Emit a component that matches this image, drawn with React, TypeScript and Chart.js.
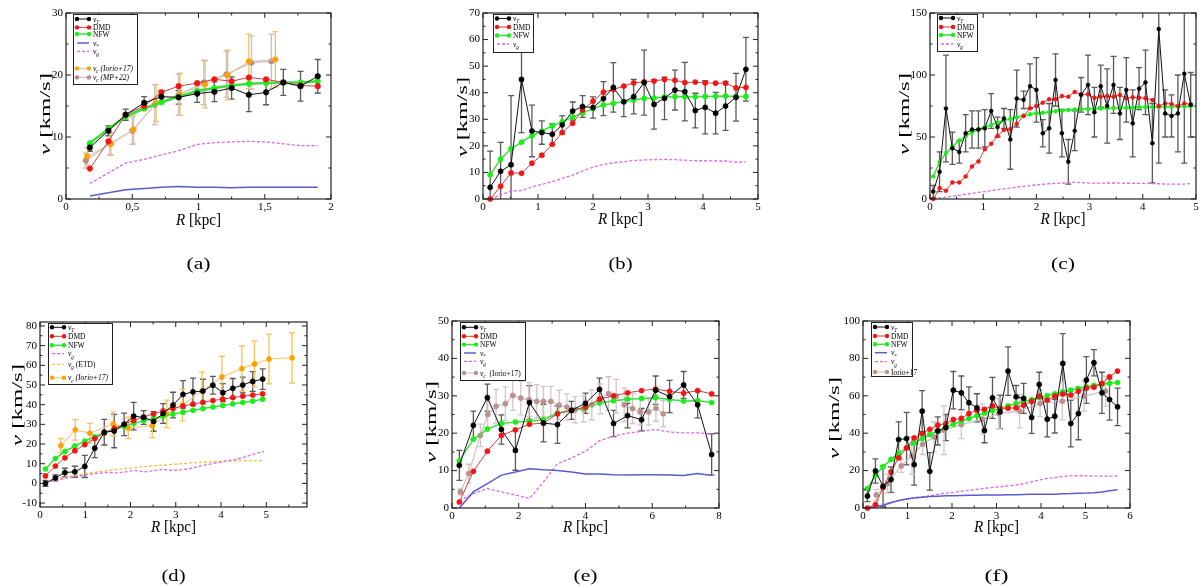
import { useEffect, useRef } from "react";
import { Chart, registerables } from "chart.js";

Chart.register(...registerables);

const SERIF = '"Liberation Serif", "DejaVu Serif", serif';

// ---------- panel (a) ----------
const aR = [0.18, 0.32, 0.45, 0.59, 0.72, 0.85, 0.99, 1.12, 1.25, 1.38, 1.51, 1.64, 1.77, 1.9];
const aVT = [8.3, 11.0, 13.6, 15.5, 16.5, 16.4, 17.0, 17.3, 17.9, 16.8, 17.2, 18.8, 18.2, 19.8];
const aVTErr = [0.6, 0.8, 0.9, 1.0, 1.0, 1.1, 1.4, 1.6, 1.8, 2.7, 2.0, 2.1, 2.4, 2.7];
const aDMD = [4.9, 9.3, 13.6, 15.0, 17.2, 18.2, 18.7, 19.3, 19.0, 19.6, 19.3, 18.8, 18.3, 18.2];
const aNFW = [9.0, 11.3, 13.3, 14.6, 15.6, 16.5, 17.4, 17.9, 18.3, 18.6, 18.7, 18.8, 18.8, 19.0];
const aVStar = [0.5, 1.0, 1.5, 1.7, 1.9, 2.0, 1.9, 1.9, 1.8, 1.9, 1.9, 1.9, 1.9, 1.9];
const aVg = [2.5, 4.2, 5.8, 6.4, 7.1, 7.8, 8.8, 9.1, 9.2, 9.3, 9.2, 8.9, 8.6, 8.6];
const aIorioR = [0.16, 0.34, 0.51, 0.68, 0.86, 1.05, 1.22, 1.38, 1.58];
const aIorio = [6.9, 8.9, 11.2, 15.5, 16.9, 18.5, 20.0, 22.2, 22.5];
const aIorioErr = [1.4, 1.8, 2.3, 3.0, 3.4, 3.8, 4.0, 4.4, 4.5];
const aMPR = [0.15, 0.33, 0.5, 0.67, 0.85, 1.04, 1.21, 1.4, 1.55];
const aMP = [6.2, 8.9, 11.0, 15.2, 16.8, 18.8, 20.1, 22.0, 22.2];
const aMPErr = [1.2, 1.8, 2.2, 3.2, 3.3, 3.6, 3.7, 4.3, 4.4];
const aXTicks = [0, 0.5, 1, 1.5, 2];
const aXLabels = ["0", "0,5", "1", "1,5", "2"];
const aYTicks = [0, 10, 20, 30];
const aYLabels = ["0", "10", "20", "30"];

// ---------- panel (b) ----------
const bR = [0.13, 0.32, 0.51, 0.7, 0.89, 1.07, 1.26, 1.44, 1.63, 1.81, 2.0, 2.19, 2.37, 2.56, 2.74, 2.93, 3.11, 3.3, 3.49, 3.67, 3.86, 4.04, 4.23, 4.41, 4.6, 4.78];
const bVT = [4.4, 10.4, 12.9, 45.0, 25.6, 25.0, 24.4, 27.9, 33.1, 34.8, 34.4, 37.8, 42.0, 36.6, 38.5, 43.8, 35.6, 37.9, 41.0, 40.4, 33.3, 34.5, 32.3, 35.0, 38.3, 48.8];
const bVTErr = [13.6, 10.9, 26.0, 20.0, 9.7, 4.4, 3.9, 3.4, 3.4, 4.1, 4.0, 6.4, 9.3, 5.6, 6.5, 12.2, 9.3, 8.0, 7.5, 11.0, 6.5, 10.0, 7.8, 9.2, 9.0, 12.0];
const bDMD = [0.0, 4.8, 9.8, 9.7, 13.5, 16.5, 20.6, 25.0, 28.5, 33.5, 36.8, 40.2, 41.2, 42.5, 43.7, 44.1, 44.4, 45.0, 44.7, 43.8, 44.0, 43.7, 43.6, 43.6, 41.8, 42.0];
const bNFW = [9.1, 15.0, 18.9, 21.4, 23.8, 25.6, 27.5, 29.1, 30.8, 32.3, 34.0, 35.4, 36.0, 36.6, 37.3, 37.9, 38.0, 38.4, 38.5, 38.5, 38.5, 38.6, 38.7, 38.8, 38.6, 38.6];
const bVg = [0.0, 1.5, 3.0, 3.2, 4.5, 5.5, 6.5, 7.8, 9.0, 10.5, 12.0, 13.0, 13.6, 14.0, 14.5, 14.7, 14.8, 14.9, 14.8, 14.6, 14.4, 14.4, 14.3, 14.3, 13.8, 14.0];
const bXTicks = [0, 1, 2, 3, 4, 5];
const bXLabels = ["0", "1", "2", "3", "4", "5"];
const bYTicks = [0, 10, 20, 30, 40, 50, 60, 70];
const bYLabels = ["0", "10", "20", "30", "40", "50", "60", "70"];

// ---------- panel (c) ----------
const cR = [0.06, 0.18, 0.3, 0.42, 0.55, 0.67, 0.79, 0.91, 1.03, 1.15, 1.27, 1.39, 1.51, 1.63, 1.76, 1.88, 2.0, 2.12, 2.24, 2.36, 2.48, 2.6, 2.72, 2.84, 2.97, 3.09, 3.21, 3.33, 3.45, 3.57, 3.69, 3.81, 3.93, 4.05, 4.18, 4.3, 4.42, 4.54, 4.66, 4.78, 4.9];
const cVT = [6, 22, 73, 41, 38, 53, 56, 56, 57, 71, 58, 65, 48, 81, 80, 91, 88, 53, 57, 96, 53, 30, 55, 84, 92, 70, 91, 75, 92, 69, 88, 61, 89, 94, 45, 137, 69, 67, 69, 101, 76];
const cVTErr = [5, 16, 43, 13, 9, 15, 15, 15, 15, 14, 8, 8, 24, 23, 7, 18, 26, 11, 20, 21, 19, 18, 16, 14, 24, 20, 17, 30, 23, 21, 26, 27, 17, 26, 32, 108, 19, 17, 31, 72, 26];
const cDMD = [0, 8.8, 6.7, 13.4, 13.4, 18.2, 26.3, 30.3, 40.2, 44.5, 50.9, 55.7, 56.3, 60.5, 67.0, 73.1, 75.0, 77.7, 80.4, 80.4, 83.0, 82.5, 86.3, 84.4, 84.4, 81.7, 82.5, 83.0, 82.5, 83.8, 81.2, 82.0, 81.7, 81.2, 79.8, 75.0, 77.1, 76.6, 75.0, 77.1, 76.3];
const cNFW = [18.2, 29.7, 37.0, 42.3, 47.1, 50.9, 53.6, 56.3, 57.9, 59.7, 61.6, 63.2, 64.6, 65.9, 67.2, 68.3, 69.1, 69.6, 70.2, 70.7, 71.3, 71.8, 72.1, 72.3, 72.6, 72.8, 73.0, 73.2, 73.4, 73.5, 73.6, 73.8, 73.9, 74.0, 74.1, 74.2, 74.3, 74.4, 74.5, 74.6, 74.7];
const cVg = [0, 0.8, 1.5, 2.3, 3.0, 3.8, 4.5, 5.3, 6.0, 6.8, 7.5, 8.2, 9.0, 9.5, 10.2, 10.8, 11.4, 11.9, 12.3, 12.6, 12.9, 13.1, 13.6, 13.2, 12.9, 12.8, 12.8, 12.9, 12.9, 12.8, 12.7, 12.7, 12.6, 12.6, 12.4, 12.3, 12.1, 12.0, 12.0, 12.1, 12.5];
const cXTicks = [0, 1, 2, 3, 4, 5];
const cXLabels = ["0", "1", "2", "3", "4", "5"];
const cYTicks = [0, 50, 100, 150];
const cYLabels = ["0", "50", "100", "150"];

// ---------- panel (d) ----------
const dR = [0.12, 0.34, 0.55, 0.77, 0.99, 1.21, 1.42, 1.64, 1.86, 2.07, 2.29, 2.51, 2.72, 2.94, 3.16, 3.38, 3.6, 3.82, 4.04, 4.26, 4.48, 4.7, 4.92];
const dVT = [0.0, 2.8, 5.5, 5.9, 8.6, 17.9, 26.0, 26.6, 30.0, 34.2, 33.5, 31.5, 35.5, 39.8, 45.2, 46.5, 46.9, 49.9, 46.1, 48.3, 50.0, 51.8, 53.0];
const dVTErr = [1.5, 1.5, 2.2, 2.8, 5.6, 4.8, 6.5, 8.5, 5.7, 7.0, 3.5, 5.0, 5.0, 6.5, 7.0, 7.0, 6.0, 4.5, 4.6, 5.0, 4.0, 5.0, 5.2];
const dDMD = [3.8, 8.8, 13.0, 16.6, 19.7, 22.8, 25.6, 28.0, 30.1, 32.0, 33.8, 35.3, 36.8, 38.1, 39.3, 40.3, 41.2, 42.1, 42.8, 43.6, 44.3, 44.9, 45.5];
const dNFW = [7.3, 12.6, 16.2, 19.0, 21.5, 23.7, 25.7, 27.5, 29.0, 30.5, 31.8, 33.0, 34.1, 35.2, 36.2, 37.1, 38.0, 38.8, 39.6, 40.4, 41.1, 41.8, 42.8];
const dVgR = [0.12, 0.3, 0.5, 0.7, 0.9, 1.1, 1.3, 1.5, 1.7, 1.9, 2.1, 2.3, 2.5, 2.7, 2.9, 3.1, 3.3, 3.5, 3.7, 3.9, 4.1, 4.3, 4.5, 4.7, 4.95];
const dVg = [1.0, 1.5, 2.3, 3.2, 3.8, 4.6, 5.2, 5.6, 5.3, 5.9, 6.6, 5.8, 6.4, 7.1, 6.6, 6.9, 7.4, 8.6, 9.6, 10.4, 11.3, 12.1, 13.2, 14.8, 16.2];
const dEtdR = [0.12, 0.5, 1.0, 1.5, 2.0, 2.5, 3.0, 3.5, 4.0, 4.5, 4.95];
const dEtd = [0.8, 2.8, 5.0, 6.5, 7.8, 8.9, 9.8, 10.6, 11.2, 11.5, 11.6];
const dIorioR = [0.46, 0.78, 1.1, 1.62, 1.95, 2.48, 2.8, 3.15, 3.58, 4.02, 4.46, 4.74, 5.06, 5.57];
const dIorio = [19.2, 27.2, 25.5, 30.2, 28.2, 29.3, 35.3, 39.8, 47.0, 54.1, 58.3, 60.7, 63.2, 63.8];
const dIorioErr = [3.6, 5.2, 5.0, 6.0, 5.5, 6.0, 7.0, 8.0, 9.5, 10.5, 11.5, 11.7, 12.6, 12.8];
const dXTicks = [0, 1, 2, 3, 4, 5];
const dXLabels = ["0", "1", "2", "3", "4", "5"];
const dYTicks = [-10, 0, 10, 20, 30, 40, 50, 60, 70, 80];
const dYLabels = ["-10", "0", "10", "20", "30", "40", "50", "60", "70", "80"];

// ---------- panel (e) ----------
const eR = [0.22, 0.64, 1.06, 1.48, 1.9, 2.32, 2.74, 3.16, 3.58, 4.0, 4.42, 4.84, 5.26, 5.68, 6.1, 6.52, 6.94, 7.36, 7.78];
const eVT = [11.4, 22.1, 29.5, 21.0, 15.4, 28.2, 22.7, 22.3, 26.1, 28.0, 31.7, 22.6, 24.7, 23.6, 31.5, 29.8, 32.9, 27.6, 14.3];
const eVTErr = [4.0, 3.8, 3.6, 3.9, 5.3, 4.5, 5.0, 5.0, 2.4, 2.7, 3.0, 3.5, 3.3, 3.0, 3.8, 4.3, 3.6, 3.5, 5.5];
const eDMD = [1.6, 9.8, 15.2, 19.4, 20.9, 22.4, 22.7, 25.2, 26.1, 27.0, 29.1, 30.0, 30.8, 31.4, 31.8, 31.2, 30.7, 31.4, 30.5];
const eNFW = [12.6, 18.4, 21.1, 22.6, 23.0, 23.2, 23.6, 25.4, 26.1, 26.7, 28.1, 28.7, 29.1, 29.3, 29.5, 29.0, 28.6, 28.7, 28.2];
const eVStar = [0.0, 4.3, 6.5, 8.8, 9.6, 10.5, 10.2, 10.0, 9.6, 9.1, 9.1, 8.9, 8.8, 8.9, 8.9, 8.8, 8.7, 9.2, 8.7];
const eVg = [2.0, 3.8, 5.2, 4.3, 3.5, 2.5, 7.0, 11.8, 13.4, 15.2, 18.0, 19.2, 20.0, 20.5, 21.0, 20.3, 20.1, 20.1, 19.8];
const eIorioR = [0.25, 0.5, 0.85, 1.07, 1.32, 1.6, 1.82, 2.06, 2.31, 2.54, 2.74, 2.96, 3.21, 3.44, 3.69, 3.94, 4.19, 4.44, 4.69, 4.92, 5.16, 5.41, 5.64, 5.89, 6.11, 6.33];
const eIorio = [4.3, 9.2, 19.4, 25.0, 27.2, 27.9, 30.1, 29.4, 29.0, 28.5, 28.5, 28.5, 27.5, 27.0, 26.3, 26.5, 27.6, 29.2, 30.6, 29.9, 27.6, 26.6, 25.7, 25.7, 26.7, 25.2];
const eIorioErr = [0.8, 2.5, 3.0, 3.5, 4.5, 4.5, 4.0, 4.5, 4.5, 4.5, 4.0, 4.0, 4.0, 3.5, 3.5, 3.5, 4.0, 4.0, 4.5, 4.5, 4.5, 4.0, 3.5, 3.5, 3.5, 3.5];
const eXTicks = [0, 2, 4, 6, 8];
const eXLabels = ["0", "2", "4", "6", "8"];
const eYTicks = [0, 10, 20, 30, 40, 50];
const eYLabels = ["0", "10", "20", "30", "40", "50"];

// ---------- panel (f) ----------
const fR = [0.1, 0.28, 0.45, 0.63, 0.8, 0.98, 1.15, 1.33, 1.5, 1.68, 1.86, 2.03, 2.21, 2.38, 2.56, 2.73, 2.91, 3.08, 3.26, 3.44, 3.61, 3.79, 3.96, 4.14, 4.31, 4.49, 4.67, 4.84, 5.02, 5.19, 5.37, 5.54, 5.72];
const fVT = [6.4, 19.8, 11.6, 15.2, 36.6, 37.1, 23.2, 51.8, 19.6, 41.2, 43.0, 63.0, 61.6, 56.3, 53.6, 41.4, 58.9, 51.4, 73.2, 59.5, 58.6, 48.4, 66.1, 47.5, 49.1, 77.3, 45.2, 50.5, 68.4, 77.7, 61.6, 58.0, 54.1];
const fVTErr = [3.0, 6.5, 11.0, 6.8, 9.5, 14.0, 11.0, 11.0, 10.0, 7.5, 7.0, 10.0, 9.0, 8.5, 7.5, 6.5, 11.0, 9.0, 13.0, 6.0, 8.0, 8.5, 6.5, 9.5, 9.0, 16.0, 12.5, 14.0, 12.5, 7.0, 11.0, 11.0, 10.0];
const fDMD = [0.0, 1.8, 11.0, 19.3, 26.8, 32.1, 37.5, 39.8, 42.1, 44.3, 45.2, 47.3, 47.9, 50.5, 52.3, 52.8, 54.6, 53.2, 53.4, 53.6, 55.0, 57.0, 59.7, 57.7, 59.8, 60.9, 60.4, 62.4, 64.1, 64.6, 66.6, 70.2, 73.2];
const fNFW = [10.4, 17.5, 22.1, 26.0, 29.3, 32.2, 34.8, 37.1, 39.3, 41.3, 43.1, 44.8, 46.4, 47.9, 49.4, 50.8, 52.1, 53.4, 54.6, 55.8, 56.9, 58.0, 59.1, 60.1, 61.1, 62.1, 63.0, 63.9, 64.8, 65.6, 66.2, 66.7, 67.1];
const fVStar = [0.0, 0.5, 1.5, 2.8, 4.0, 4.8, 5.3, 5.7, 6.1, 6.3, 6.5, 6.6, 6.7, 6.8, 6.8, 6.9, 7.0, 7.0, 7.1, 7.1, 7.2, 7.3, 7.3, 7.3, 7.4, 7.6, 7.7, 7.9, 8.0, 8.2, 8.6, 9.2, 9.8];
const fVg = [0.0, 0.5, 2.0, 3.0, 4.0, 4.8, 5.5, 6.0, 6.5, 7.3, 8.0, 8.3, 8.9, 9.5, 10.0, 10.5, 11.0, 11.3, 11.8, 12.3, 13.0, 14.0, 15.0, 15.8, 16.3, 16.8, 17.2, 17.3, 17.2, 17.0, 17.0, 17.0, 17.0];
const fIorioR = [0.3, 0.55, 0.86, 1.1, 1.34, 1.6, 1.82, 2.21, 2.68, 3.05, 3.52, 3.98, 4.48, 4.97, 5.45];
const fIorio = [7.0, 13.0, 22.5, 28.0, 34.1, 38.0, 41.6, 44.6, 47.5, 50.5, 51.8, 55.9, 57.1, 59.8, 62.5];
const fIorioErr = [3.0, 5.0, 3.5, 10.0, 5.5, 8.0, 13.0, 7.5, 8.0, 8.0, 9.0, 7.0, 10.0, 8.0, 8.0];
const fXTicks = [0, 1, 2, 3, 4, 5, 6];
const fXLabels = ["0", "1", "2", "3", "4", "5", "6"];
const fYTicks = [0, 20, 40, 60, 80, 100];
const fYLabels = ["0", "20", "40", "60", "80", "100"];

type Part = [string, string];
type Series = { kind: string; r: number[]; v: number[]; err?: number[]; width?: number };
type Style = { line: string; point?: string; width: number; dash?: number[]; err?: string; order: number };
type Panel = {
  id: string;
  box: { l: number; t: number; r: number; b: number };
  x: [number, number];
  y: [number, number];
  xTicks: number[];
  xLabels: string[];
  xMinor: number;
  yTicks: number[];
  yLabels: string[];
  yMinor: number;
  pr: number;
  series: Series[];
  legend: { dx: number; w: number; h: number; rows: number[]; entries: { kind: string; label: Part[] }[] };
  yTitle: { x: number; y: number; len: number };
  xTitleY: number;
  caption: string;
  captionY: number;
};

const STY: Record<string, Style> = {
  vT: { line: "#111111", point: "#000000", width: 1, err: "#5a5a5a", order: 0 },
  dmd: { line: "#cc4040", point: "#f41414", width: 1, order: 1 },
  nfw: { line: "#40dd40", point: "#18f018", width: 1.5, order: 2 },
  iorio: { line: "#dccbb0", point: "#ffa200", width: 1.2, err: "#f2c35c", order: 3 },
  iorioD: { line: "#f2cc84", point: "#ffa200", width: 1.2, err: "#f2c35c", order: 3 },
  mp: { line: "#c8bebe", point: "#b68a8a", width: 1.2, err: "#cfbdbd", order: 4 },
  iorioE: { line: "#cfc0c0", point: "#ba9090", width: 1.2, err: "#d5c6c6", order: 4 },
  star: { line: "#5b5bd0", width: 1.5, order: 5 },
  gas: { line: "#e066e0", width: 1.3, dash: [3, 2], order: 6 },
  etd: { line: "#f0c048", width: 1.3, dash: [3, 2], order: 6 },
};

const L_VT: Part[] = [["v", "i"], ["T", "si"]];
const L_DMD: Part[] = [["DMD", "r"]];
const L_NFW: Part[] = [["NFW", "r"]];
const L_STAR: Part[] = [["v", "i"], ["*", "s"]];
const L_G: Part[] = [["v", "i"], ["g", "si"]];

const panels: Panel[] = [
  {
    id: "a",
    box: { l: 66, t: 13, r: 331, b: 199 },
    x: [0, 2],
    y: [0, 30],
    xTicks: aXTicks,
    xLabels: aXLabels,
    xMinor: 0.25,
    yTicks: aYTicks,
    yLabels: aYLabels,
    yMinor: 5,
    pr: 2.8,
    series: [
      { kind: "vT", r: aR, v: aVT, err: aVTErr },
      { kind: "dmd", r: aR, v: aDMD },
      { kind: "nfw", r: aR, v: aNFW, width: 2.6 },
      { kind: "star", r: aR, v: aVStar },
      { kind: "gas", r: aR, v: aVg },
      { kind: "iorio", r: aIorioR, v: aIorio, err: aIorioErr },
      { kind: "mp", r: aMPR, v: aMP, err: aMPErr },
    ],
    legend: {
      dx: 7,
      w: 64,
      h: 70,
      rows: [5, 13.4, 20, 29, 37.4, 54.4, 63.4],
      entries: [
        { kind: "vT", label: L_VT },
        { kind: "dmd", label: L_DMD },
        { kind: "nfw", label: L_NFW },
        { kind: "star", label: L_STAR },
        { kind: "gas", label: L_G },
        { kind: "iorio", label: [["v", "i"], ["c", "si"], [" (Iorio+17)", "i"]] },
        { kind: "mp", label: [["v", "i"], ["c", "si"], [" (MP+22)", "i"]] },
      ],
    },
    yTitle: { x: 45, y: 114, len: 82 },
    xTitleY: 220,
    caption: "(a)",
    captionY: 263,
  },
  {
    id: "b",
    box: { l: 483, t: 13, r: 758, b: 199 },
    x: [0, 5],
    y: [0, 70],
    xTicks: bXTicks,
    xLabels: bXLabels,
    xMinor: 0.5,
    yTicks: bYTicks,
    yLabels: bYLabels,
    yMinor: 5,
    pr: 2.6,
    series: [
      { kind: "vT", r: bR, v: bVT, err: bVTErr },
      { kind: "dmd", r: bR, v: bDMD },
      { kind: "nfw", r: bR, v: bNFW },
      { kind: "gas", r: bR, v: bVg },
    ],
    legend: {
      dx: 10,
      w: 40,
      h: 38,
      rows: [4.5, 13, 21.5, 30],
      entries: [
        { kind: "vT", label: L_VT },
        { kind: "dmd", label: L_DMD },
        { kind: "nfw", label: L_NFW },
        { kind: "gas", label: L_G },
      ],
    },
    yTitle: { x: 462, y: 117, len: 80 },
    xTitleY: 219,
    caption: "(b)",
    captionY: 263,
  },
  {
    id: "c",
    box: { l: 930, t: 13, r: 1196, b: 199 },
    x: [0, 5],
    y: [0, 150],
    xTicks: cXTicks,
    xLabels: cXLabels,
    xMinor: 0.5,
    yTicks: cYTicks,
    yLabels: cYLabels,
    yMinor: 25,
    pr: 2,
    series: [
      { kind: "vT", r: cR, v: cVT, err: cVTErr },
      { kind: "dmd", r: cR, v: cDMD },
      { kind: "nfw", r: cR, v: cNFW },
      { kind: "gas", r: cR, v: cVg },
    ],
    legend: {
      dx: 7,
      w: 40,
      h: 37,
      rows: [4, 13, 21, 30],
      entries: [
        { kind: "vT", label: L_VT },
        { kind: "dmd", label: L_DMD },
        { kind: "nfw", label: L_NFW },
        { kind: "gas", label: L_G },
      ],
    },
    yTitle: { x: 904, y: 114, len: 82 },
    xTitleY: 219,
    caption: "(c)",
    captionY: 263,
  },
  {
    id: "d",
    box: { l: 40, t: 322, r: 307, b: 507 },
    x: [0, 5.9],
    y: [-12, 82],
    xTicks: dXTicks,
    xLabels: dXLabels,
    xMinor: 0.5,
    yTicks: dYTicks,
    yLabels: dYLabels,
    yMinor: 5,
    pr: 2.6,
    series: [
      { kind: "vT", r: dR, v: dVT, err: dVTErr },
      { kind: "dmd", r: dR, v: dDMD },
      { kind: "nfw", r: dR, v: dNFW },
      { kind: "gas", r: dVgR, v: dVg },
      { kind: "etd", r: dEtdR, v: dEtd },
      { kind: "iorioD", r: dIorioR, v: dIorio, err: dIorioErr },
    ],
    legend: {
      dx: 8,
      w: 64,
      h: 61,
      rows: [4.3, 13.3, 22.3, 30.7, 41.3, 54.7],
      entries: [
        { kind: "vT", label: L_VT },
        { kind: "dmd", label: L_DMD },
        { kind: "nfw", label: L_NFW },
        { kind: "gas", label: L_G },
        { kind: "etd", label: [["v", "i"], ["g", "si"], [" (ETD)", "r"]] },
        { kind: "iorioD", label: [["v", "i"], ["c", "si"], [" (Iorio+17)", "i"]] },
      ],
    },
    yTitle: { x: 17, y: 405, len: 82 },
    xTitleY: 527,
    caption: "(d)",
    captionY: 575,
  },
  {
    id: "e",
    box: { l: 452, t: 321, r: 719, b: 508 },
    x: [0, 8],
    y: [0, 50],
    xTicks: eXTicks,
    xLabels: eXLabels,
    xMinor: 1,
    yTicks: eYTicks,
    yLabels: eYLabels,
    yMinor: 5,
    pr: 2.6,
    series: [
      { kind: "vT", r: eR, v: eVT, err: eVTErr },
      { kind: "dmd", r: eR, v: eDMD },
      { kind: "nfw", r: eR, v: eNFW },
      { kind: "star", r: eR, v: eVStar },
      { kind: "gas", r: eR, v: eVg },
      { kind: "iorioE", r: eIorioR, v: eIorio, err: eIorioErr },
    ],
    legend: {
      dx: 8,
      w: 65,
      h: 58,
      rows: [5.3, 14.3, 22.6, 31, 39.3, 51],
      entries: [
        { kind: "vT", label: L_VT },
        { kind: "dmd", label: L_DMD },
        { kind: "nfw", label: L_NFW },
        { kind: "star", label: L_STAR },
        { kind: "gas", label: L_G },
        { kind: "iorioE", label: [["v", "i"], ["c", "si"], ["  (Iorio+17)", "r"]] },
      ],
    },
    yTitle: { x: 431, y: 422, len: 82 },
    xTitleY: 527,
    caption: "(e)",
    captionY: 575,
  },
  {
    id: "f",
    box: { l: 863, t: 321, r: 1130, b: 508 },
    x: [0, 6],
    y: [0, 100],
    xTicks: fXTicks,
    xLabels: fXLabels,
    xMinor: 0.5,
    yTicks: fYTicks,
    yLabels: fYLabels,
    yMinor: 10,
    pr: 2.6,
    series: [
      { kind: "vT", r: fR, v: fVT, err: fVTErr },
      { kind: "dmd", r: fR, v: fDMD },
      { kind: "nfw", r: fR, v: fNFW },
      { kind: "star", r: fR, v: fVStar },
      { kind: "gas", r: fR, v: fVg },
      { kind: "iorioE", r: fIorioR, v: fIorio, err: fIorioErr },
    ],
    legend: {
      dx: 8,
      w: 41,
      h: 54,
      rows: [5, 14, 22.3, 30.7, 39.7, 50],
      entries: [
        { kind: "vT", label: L_VT },
        { kind: "dmd", label: L_DMD },
        { kind: "nfw", label: L_NFW },
        { kind: "star", label: L_STAR },
        { kind: "gas", label: L_G },
        { kind: "iorioE", label: [["Iorio+17", "r"]] },
      ],
    },
    yTitle: { x: 834, y: 418, len: 82 },
    xTitleY: 527,
    caption: "(f)",
    captionY: 575,
  },
];

// text helpers: parts are [text, flags] with i = italic, s = subscript
function fontFor(flags: string, size: number) {
  const it = flags.includes("i") ? "italic " : "";
  const sz = flags.includes("s") ? size * 0.7 : size;
  return `${it}${sz}px ${SERIF}`;
}

function measureParts(ctx: CanvasRenderingContext2D, parts: Part[], size: number) {
  let w = 0;
  for (const [t, f] of parts) {
    ctx.font = fontFor(f, size);
    w += ctx.measureText(t).width;
  }
  return w;
}

function drawParts(ctx: CanvasRenderingContext2D, parts: Part[], size: number, x: number, y: number) {
  ctx.textAlign = "left";
  ctx.textBaseline = "alphabetic";
  for (const [t, f] of parts) {
    ctx.font = fontFor(f, size);
    ctx.fillText(t, x, f.includes("s") ? y + size * 0.32 : y);
    x += ctx.measureText(t).width;
  }
}

function drawFitted(
  ctx: CanvasRenderingContext2D,
  parts: Part[],
  size: number,
  cx: number,
  cy: number,
  len: number,
  rotate: boolean
) {
  const w = measureParts(ctx, parts, size);
  ctx.save();
  ctx.translate(cx, cy);
  if (rotate) ctx.rotate(-Math.PI / 2);
  ctx.scale(len / w, 1);
  ctx.fillStyle = "#000";
  drawParts(ctx, parts, size, -w / 2, size * 0.33);
  ctx.restore();
}

function minorValues(min: number, max: number, step: number, majors: number[]) {
  const out: number[] = [];
  for (let k = Math.ceil(min / step - 1e-9); k * step <= max + 1e-9; k++) {
    const v = k * step;
    if (!majors.some((m) => Math.abs(m - v) < 1e-6)) out.push(v);
  }
  return out;
}

const decor = (p: Panel, left: number, top: number) => ({
  id: "decor_" + p.id,
  beforeDatasetsDraw(chart: Chart) {
    const { ctx, chartArea: a } = chart;
    const xs = chart.scales.x;
    const ys = chart.scales.y;
    ctx.save();
    ctx.beginPath();
    ctx.rect(a.left, a.top, a.right - a.left, a.bottom - a.top);
    ctx.clip();
    for (const s of p.series) {
      if (!s.err) continue;
      const st = STY[s.kind];
      ctx.strokeStyle = st.err || "#555";
      ctx.lineWidth = 1.3;
      s.r.forEach((r, i) => {
        const x = xs.getPixelForValue(r);
        const y1 = ys.getPixelForValue(s.v[i] - s.err![i]);
        const y2 = ys.getPixelForValue(s.v[i] + s.err![i]);
        ctx.beginPath();
        ctx.moveTo(x, y1);
        ctx.lineTo(x, y2);
        ctx.moveTo(x - 3, y1);
        ctx.lineTo(x + 3, y1);
        ctx.moveTo(x - 3, y2);
        ctx.lineTo(x + 3, y2);
        ctx.stroke();
      });
    }
    ctx.restore();
  },
  afterDraw(chart: Chart) {
    const { ctx, chartArea: a } = chart;
    const xs = chart.scales.x;
    const ys = chart.scales.y;
    ctx.save();

    // frame
    ctx.strokeStyle = "#222";
    ctx.lineWidth = 1.2;
    ctx.strokeRect(a.left, a.top, a.right - a.left, a.bottom - a.top);

    // inward ticks on all four sides
    ctx.lineWidth = 1;
    const tickX = (v: number, len: number) => {
      const x = xs.getPixelForValue(v);
      ctx.beginPath();
      ctx.moveTo(x, a.bottom);
      ctx.lineTo(x, a.bottom - len);
      ctx.moveTo(x, a.top);
      ctx.lineTo(x, a.top + len);
      ctx.stroke();
    };
    const tickY = (v: number, len: number) => {
      const y = ys.getPixelForValue(v);
      ctx.beginPath();
      ctx.moveTo(a.left, y);
      ctx.lineTo(a.left + len, y);
      ctx.moveTo(a.right, y);
      ctx.lineTo(a.right - len, y);
      ctx.stroke();
    };
    p.xTicks.forEach((v) => tickX(v, 5));
    minorValues(p.x[0], p.x[1], p.xMinor, p.xTicks).forEach((v) => tickX(v, 2.5));
    p.yTicks.forEach((v) => tickY(v, 5));
    minorValues(p.y[0], p.y[1], p.yMinor, p.yTicks).forEach((v) => tickY(v, 2.5));

    // tick labels
    ctx.fillStyle = "#000";
    ctx.font = `11px ${SERIF}`;
    ctx.textAlign = "center";
    ctx.textBaseline = "top";
    p.xTicks.forEach((v, i) => ctx.fillText(p.xLabels[i], xs.getPixelForValue(v), a.bottom + 3));
    ctx.textAlign = "right";
    ctx.textBaseline = "middle";
    p.yTicks.forEach((v, i) => ctx.fillText(p.yLabels[i], a.left - 3, ys.getPixelForValue(v)));

    // axis titles
    drawFitted(ctx, [["v", "i"], [" [km/s]", "r"]], 14, p.yTitle.x - left, p.yTitle.y - top, p.yTitle.len, true);
    drawFitted(ctx, [["R", "i"], [" [kpc]", "r"]], 16, (a.left + a.right) / 2, p.xTitleY - top, 45, false);

    // caption
    drawFitted(ctx, [[p.caption, "r"]], 17, (a.left + a.right) / 2, p.captionY - top, 24, false);

    // legend
    const lg = p.legend;
    const x0 = a.left + lg.dx;
    const y0 = a.top + 1;
    ctx.fillStyle = "#fff";
    ctx.fillRect(x0, y0, lg.w, lg.h);
    ctx.strokeStyle = "#222";
    ctx.lineWidth = 1;
    ctx.strokeRect(x0 + 0.5, y0 + 0.5, lg.w, lg.h);
    lg.entries.forEach((e, i) => {
      const st = STY[e.kind];
      const y = y0 + lg.rows[i];
      ctx.strokeStyle = st.line;
      ctx.lineWidth = st.width;
      ctx.setLineDash(st.dash || []);
      ctx.beginPath();
      ctx.moveTo(x0 + 4, y);
      ctx.lineTo(x0 + 16, y);
      ctx.stroke();
      ctx.setLineDash([]);
      if (st.point) {
        ctx.fillStyle = st.point;
        for (const px of [x0 + 4, x0 + 16]) {
          ctx.beginPath();
          ctx.arc(px, y, 2.2, 0, Math.PI * 2);
          ctx.fill();
        }
      }
      ctx.fillStyle = "#000";
      drawParts(ctx, e.label, 7.5, x0 + 20, y + 2.5);
    });

    ctx.restore();
  },
});

function PanelChart({ p }: { p: Panel }) {
  const ref = useRef<HTMLCanvasElement>(null);
  const L = Math.min(62, p.box.l);
  const T = 10;
  const R = Math.min(12, 1200 - p.box.r);
  const B = p.captionY + 12 - p.box.b;
  const left = p.box.l - L;
  const top = p.box.t - T;
  const width = p.box.r - p.box.l + L + R;
  const height = p.box.b - p.box.t + T + B;

  useEffect(() => {
    if (!ref.current) return;
    const chart = new Chart(ref.current, {
      type: "line",
      data: {
        datasets: p.series.map((s) => {
          const st = STY[s.kind];
          return {
            data: s.r.map((r, i) => ({ x: r, y: s.v[i] })),
            borderColor: st.line,
            borderWidth: s.width || st.width,
            borderDash: st.dash || [],
            backgroundColor: st.point || st.line,
            pointBackgroundColor: st.point || st.line,
            pointBorderColor: st.point || st.line,
            pointBorderWidth: 0.5,
            pointRadius: st.point ? p.pr : 0,
            fill: false,
            tension: 0,
            order: st.order,
            clip: 3,
          };
        }),
      },
      options: {
        responsive: false,
        animation: false,
        events: [],
        devicePixelRatio: 1,
        layout: { autoPadding: false, padding: { left: L, top: T, right: R, bottom: B } },
        plugins: { legend: { display: false }, tooltip: { enabled: false } },
        scales: {
          x: { type: "linear", min: p.x[0], max: p.x[1], display: false },
          y: { type: "linear", min: p.y[0], max: p.y[1], display: false },
        },
      },
      plugins: [decor(p, left, top)],
    });
    return () => {
      chart.destroy();
    };
  }, []);

  return (
    <canvas
      ref={ref}
      width={width}
      height={height}
      style={{ position: "absolute", left, top, width, height }}
    />
  );
}

const App = () => {
  return (
    <div
      style={{
        position: "absolute",
        left: 0,
        top: 0,
        width: 1200,
        height: 587,
        background: "#fff",
        overflow: "hidden",
      }}
    >
      {panels.map((p) => (
        <PanelChart key={p.id} p={p} />
      ))}
    </div>
  );
};

export default App;
